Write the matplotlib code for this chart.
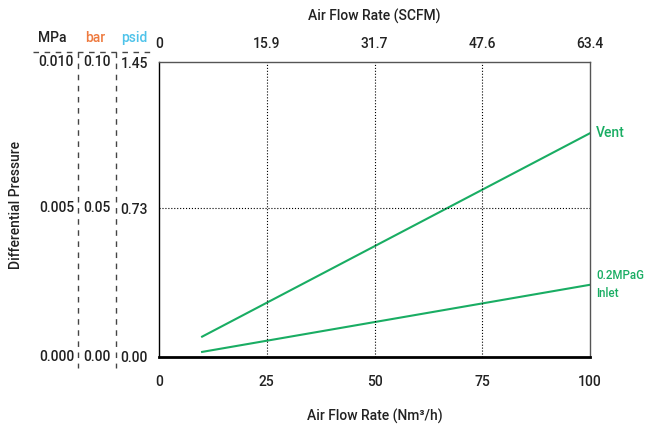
import numpy as np
import matplotlib
matplotlib.use('Agg')
from matplotlib import pyplot as plt
from matplotlib import transforms

# ---- Daten ----
flow = [10, 100]                      # Nm3/h
vent = [0.10, 1.10]                   # psid
inlet = [0.025, 0.355]                # psid

x_ticks = [0, 25, 50, 75, 100]
scfm_labels = ['0', '15.9', '31.7', '47.6', '63.4']
psid_ticks = [0.0, 0.73, 1.45]
psid_labels = ['0.00', '0.73', '1.45']
bar_labels = ['0.00', '0.05', '0.10']
mpa_labels = ['0.000', '0.005', '0.010']

green = '#19ad63'
txt = '#222222'
plt.rcParams['font.family'] = ['Roboto', 'DejaVu Sans']
plt.rcParams['font.size'] = 10

fig = plt.figure(figsize=(6.46, 4.28), dpi=100)
W, H = 646, 428
ax = fig.add_axes([159 / W, 1 - 357 / H, (590 - 159) / W, (357 - 62) / H])

ax.plot(flow, vent, color=green, lw=1.5)
ax.plot(flow, inlet, color=green, lw=1.5)

ax.set_xlim(0, 100)
ax.set_ylim(0, 1.45)
ax.set_xticks(x_ticks)
ax.set_xticklabels(x_ticks, fontweight='medium', color=txt)
ax.set_yticks(psid_ticks)
ax.set_yticklabels(psid_labels, fontweight='medium', color=txt)
ax.tick_params(length=0, pad=13)
ax.tick_params(axis='y', pad=8)

for xv in x_ticks[1:-1]:
    ax.axvline(xv, color='k', ls=':', lw=0.8)
ax.axhline(psid_ticks[1], color='k', ls=':', lw=0.8)

ax.spines['bottom'].set_linewidth(2.0)
ax.spines['left'].set_linewidth(1.0)
for s in ['top', 'right']:
    ax.spines[s].set_color('#555555')
    ax.spines[s].set_linewidth(1.0)

ax.set_xlabel('Air Flow Rate (Nm³/h)', fontweight='medium', color=txt, labelpad=14)

# ---- obere Achse SCFM ----
top = ax.twiny()
top.set_xlim(ax.get_xlim())
top.set_xticks(x_ticks)
top.set_xticklabels(scfm_labels, fontweight='medium', color=txt)
top.tick_params(length=0, pad=8)
top.set_xlabel('Air Flow Rate (SCFM)', fontweight='medium', color=txt, labelpad=12)
for s in top.spines.values():
    s.set_visible(False)

# ---- Beschriftung Linien ----
ax.text(101.4, vent[1], 'Vent', color=green, fontweight='medium', va='center', clip_on=False)
ax.text(101.4, inlet[1], '0.2MPaG\nInlet', color=green, fontweight='medium', va='center',
        fontsize=8.3, linespacing=1.5, clip_on=False)

# ---- linke Zusatzskalen MPa / bar ----
tr = transforms.blended_transform_factory(fig.transFigure, ax.transData)
for yv, m, b in zip(psid_ticks, mpa_labels, bar_labels):
    fig.text(74 / W, yv, m, transform=tr, ha='right', va='center', fontweight='medium', color=txt)
    fig.text(111 / W, yv, b, transform=tr, ha='right', va='center', fontweight='medium', color=txt)

fig.text(52 / W, 1 - 38 / H, 'MPa', ha='center', va='center', fontweight='medium', color=txt)
fig.text(95 / W, 1 - 38 / H, 'bar', ha='center', va='center', fontweight='medium', color='#ee7a3f')
fig.text(134 / W, 1 - 38 / H, 'psid', ha='center', va='center', fontweight='medium', color='#4ec3ea')

for xp in [78, 116]:
    fig.add_artist(plt.Line2D([xp / W, xp / W], [1 - 52 / H, 1 - 368 / H], color='#444444',
                              lw=1.0, ls=(0, (4, 4))))
fig.add_artist(plt.Line2D([33 / W, 155 / W], [1 - 52 / H, 1 - 52 / H], color='#444444',
                          lw=1.0, ls=(0, (4, 4))))

fig.text(16 / W, 1 - 205 / H, 'Differential Pressure', rotation=90, ha='center', va='center',
         fontweight='medium', color=txt)

fig.savefig('out.png', dpi=100)
